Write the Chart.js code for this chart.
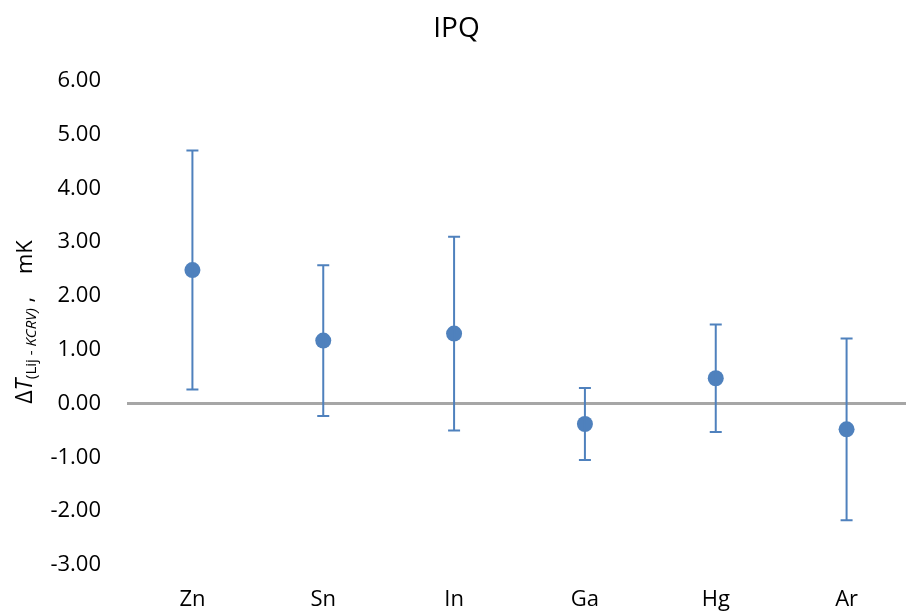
<!DOCTYPE html>
<html>
<head>
<meta charset="utf-8">
<script src="https://cdn.jsdelivr.net/npm/chart.js@4"></script>
<style>
    html, body { margin: 0; padding: 0; background: #fff; overflow: hidden; }
    #wrap { width: 920px; height: 615px; }
</style>
</head>
<body>
<div id="wrap"><canvas id="chart" width="920" height="615"></canvas></div>
<script>
const categories = ["Zn", "Sn", "In", "Ga", "Hg", "Ar"];
const differences = [2.48, 1.17, 1.30, -0.38, 0.47, -0.48];
const uncertainties = [2.22, 1.40, 1.80, 0.67, 1.00, 1.69];
const yTicks = [-3, -2, -1, 0, 1, 2, 3, 4, 5, 6];

const blue = "#4f81bd";
const font = "'Open Sans', 'Liberation Sans', sans-serif";

// error bars drawn through the y scale
const errorBars = {
    id: "errorBars",
    afterDatasetsDraw(chart) {
        const ctx = chart.ctx;
        const x = chart.scales.x;
        const y = chart.scales.y;

        ctx.save();
        ctx.strokeStyle = blue;
        ctx.lineWidth = 2;

        for (let i = 0; i < differences.length; i++) {
            let px = x.getPixelForValue(i);
            let top = y.getPixelForValue(differences[i] + uncertainties[i]);
            let bottom = y.getPixelForValue(differences[i] - uncertainties[i]);

            ctx.beginPath();
            ctx.moveTo(px, top);
            ctx.lineTo(px, bottom);
            ctx.moveTo(px - 6, top);
            ctx.lineTo(px + 6, top);
            ctx.moveTo(px - 6, bottom);
            ctx.lineTo(px + 6, bottom);
            ctx.stroke();
        }

        ctx.restore();
    }
};

// y axis title with italic subscript
const yTitle = {
    id: "yTitle",
    afterDraw(chart) {
        const ctx = chart.ctx;
        const parts = [
            { text: "\u0394", font: "23px " + font, dy: 0 },
            { text: "T", font: "italic 23px " + font, dy: 0 },
            { text: "(Lij - ", font: "15px " + font, dy: 4 },
            { text: "KCRV)", font: "italic 15px " + font, dy: 4 },
            { text: " ,    mK", font: "22px " + font, dy: 0 }
        ];

        ctx.save();
        let total = 0;
        for (let p of parts) {
            ctx.font = p.font;
            p.width = ctx.measureText(p.text).width;
            total += p.width;
        }

        ctx.translate(32, 322);
        ctx.rotate(-Math.PI / 2);
        ctx.fillStyle = "#000";
        ctx.textBaseline = "alphabetic";

        let pos = -total / 2;
        for (let p of parts) {
            ctx.font = p.font;
            ctx.fillText(p.text, pos, p.dy);
            pos += p.width;
        }
        ctx.restore();
    }
};

new Chart(document.getElementById("chart"), {
    type: "line",
    data: {
        labels: categories,
        datasets: [{
            data: differences,
            showLine: false,
            pointRadius: 8,
            pointHoverRadius: 8,
            pointBackgroundColor: blue,
            pointBorderColor: blue,
            pointBorderWidth: 0
        }]
    },
    options: {
        responsive: false,
        animation: false,
        events: [],
        layout: {
            padding: { left: 0, right: 7, top: 0, bottom: 0 }
        },
        plugins: {
            legend: { display: false },
            tooltip: { enabled: false },
            title: {
                display: true,
                text: "IPQ",
                color: "#000",
                font: { family: font, size: 28, weight: "normal" },
                padding: { top: 12, bottom: 35 }
            }
        },
        scales: {
            x: {
                offset: true,
                afterFit(scale) {
                    scale.height = 50;
                },
                grid: { display: false },
                border: { display: false },
                ticks: {
                    color: "#000",
                    font: { family: font, size: 22 },
                    padding: 14,
                    maxRotation: 0
                }
            },
            y: {
                min: -3,
                max: 6,
                afterBuildTicks(scale) {
                    scale.ticks = yTicks.map((v) => ({ value: v }));
                },
                afterFit(scale) {
                    scale.width = 127;
                },
                grid: {
                    drawTicks: false,
                    lineWidth: 3,
                    color: (c) => c.tick && c.tick.value === 0 ? "#a6a6a6" : "rgba(0,0,0,0)"
                },
                border: { display: false },
                ticks: {
                    color: "#000",
                    font: { family: font, size: 22 },
                    padding: 26,
                    callback: (v) => Number(v).toFixed(2)
                }
            }
        }
    },
    plugins: [errorBars, yTitle]
});
</script>
</body>
</html>
